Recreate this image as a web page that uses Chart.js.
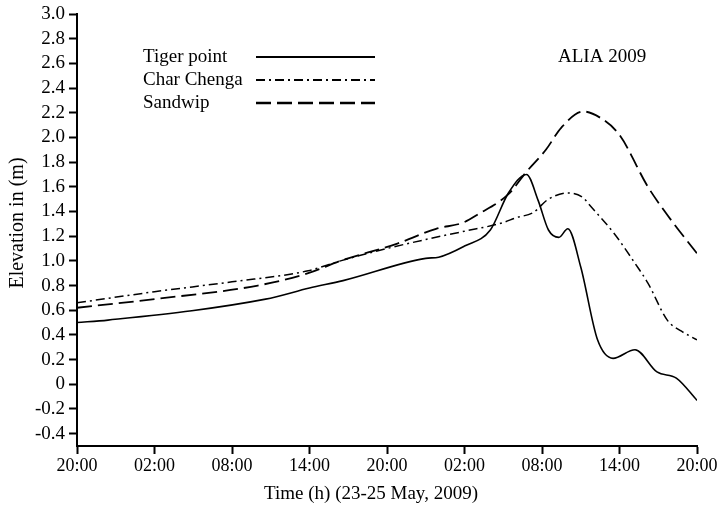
<!DOCTYPE html>
<html>
<head>
<meta charset="utf-8">
<script src="https://cdn.jsdelivr.net/npm/chart.js@4/dist/chart.umd.min.js"></script>
<style>
  html, body { margin: 0; padding: 0; background: #fff; }
  #wrap { width: 718px; height: 510px; position: relative; }
</style>
</head>
<body>
<div id="wrap"><canvas id="cv" width="718" height="510"></canvas></div>
<script>
// Time axis: hours since 20:00, 23 May
const xTickHours = [0, 6, 12, 18, 24, 30, 36, 42, 48];
const xTickLabels = ["20:00", "02:00", "08:00", "14:00", "20:00", "02:00", "08:00", "14:00", "20:00"];
const yTicks = [-0.4, -0.2, 0, 0.2, 0.4, 0.6, 0.8, 1.0, 1.2, 1.4, 1.6, 1.8, 2.0, 2.2, 2.4, 2.6, 2.8, 3.0];

const tigerHours = [0, 2.4, 14.6, 18, 20.6, 27, 28, 30, 32, 33.4, 34.8, 35.7, 36.5, 37.3, 38, 39, 40.3, 41.5, 43.2, 44.9, 46.4, 48];
const tigerVals  = [0.50, 0.52, 0.69, 0.78, 0.84, 1.02, 1.03, 1.12, 1.25, 1.55, 1.70, 1.49, 1.25, 1.19, 1.26, 0.95, 0.36, 0.21, 0.28, 0.10, 0.05, -0.13];

const charHours = [0, 6, 12, 17.9, 20.4, 24, 27.3, 30, 33, 34, 35.3, 36.5, 38, 39.2, 39.7, 41.6, 43.2, 44.2, 45.7, 46.8, 48];
const charVals  = [0.66, 0.75, 0.83, 0.92, 1.00, 1.10, 1.18, 1.24, 1.31, 1.35, 1.39, 1.50, 1.55, 1.51, 1.45, 1.22, 0.98, 0.82, 0.52, 0.43, 0.36];

const sandHours = [0, 6, 14, 17.9, 20.4, 24.8, 27.8, 29.9, 31.1, 33.4, 34.7, 36.3, 37.5, 39.2, 40.5, 42, 44.2, 46, 48];
const sandVals  = [0.62, 0.69, 0.80, 0.90, 1.00, 1.14, 1.26, 1.31, 1.38, 1.54, 1.71, 1.90, 2.08, 2.21, 2.16, 2.02, 1.60, 1.33, 1.06];

const xTitle = "Time (h) (23-25 May, 2009)";
const yTitle = "Elevation in (m)";
const plotTag = "ALIA 2009";

const pts = (xs, ys) => xs.map((x, i) => ({ x, y: ys[i] }));
const FONT = "'Liberation Serif', 'Times New Roman', serif";

// legend (text left, sample right) + axis titles, as in the original figure
const figureText = {
  id: "figureText",
  afterDraw(chart) {
    const ctx = chart.ctx;
    const rows = [57, 80, 103];
    ctx.save();
    ctx.font = "19px " + FONT;
    ctx.fillStyle = "#000";
    ctx.textBaseline = "middle";
    chart.data.datasets.forEach((ds, i) => {
      ctx.textAlign = "left";
      ctx.fillText(ds.label, 143, rows[i]);
      ctx.beginPath();
      ctx.setLineDash(ds.borderDash || []);
      ctx.lineWidth = ds.borderWidth + (i === 2 ? 0.6 : 0.3);
      ctx.strokeStyle = "#000";
      ctx.moveTo(256, rows[i]);
      ctx.lineTo(375, rows[i]);
      ctx.stroke();
    });
    ctx.setLineDash([]);
    ctx.fillText(plotTag, 558, 57);

    ctx.textAlign = "center";
    ctx.fillText(xTitle, 371, 494);

    ctx.translate(18, 223);
    ctx.rotate(-Math.PI / 2);
    ctx.font = "20px " + FONT;
    ctx.fillText(yTitle, 0, 0);
    ctx.restore();
  }
};

new Chart(document.getElementById("cv"), {
  type: "line",
  data: {
    datasets: [
      { label: "Tiger point", data: pts(tigerHours, tigerVals), borderColor: "#000", borderWidth: 1.6, borderDash: [] },
      { label: "Char Chenga", data: pts(charHours, charVals), borderColor: "#000", borderWidth: 1.5, borderDash: [9, 4, 2, 4] },
      { label: "Sandwip", data: pts(sandHours, sandVals), borderColor: "#000", borderWidth: 1.8, borderDash: [15, 6] }
    ]
  },
  options: {
    responsive: false,
    animation: false,
    elements: {
      point: { radius: 0 },
      line: { cubicInterpolationMode: "monotone", fill: false }
    },
    layout: { padding: { top: 14, right: 21, left: 0, bottom: 0 } },
    plugins: { legend: { display: false }, tooltip: { enabled: false } },
    scales: {
      x: {
        type: "linear",
        min: 0,
        max: 48,
        afterBuildTicks: (s) => { s.ticks = xTickHours.map(v => ({ value: v })); },
        afterFit: (s) => { s.height = 64; s.paddingLeft = 0; s.paddingRight = 0; },
        ticks: {
          color: "#000",
          font: { family: FONT, size: 18 },
          padding: 1,
          maxRotation: 0,
          autoSkip: false,
          callback: (v) => xTickLabels[xTickHours.indexOf(v)]
        },
        grid: { drawOnChartArea: false, tickLength: 8, tickColor: "#000", tickWidth: 2 },
        border: { color: "#000", width: 2 }
      },
      y: {
        type: "linear",
        min: -0.5,
        max: 3.0,
        afterBuildTicks: (s) => { s.ticks = yTicks.map(v => ({ value: v })); },
        afterFit: (s) => { s.width = 77; s.paddingTop = 0; s.paddingBottom = 0; },
        ticks: {
          color: "#000",
          font: { family: FONT, size: 19 },
          padding: 4,
          autoSkip: false,
          callback: (v) => (v === 0 ? "0" : v.toFixed(1))
        },
        grid: { drawOnChartArea: false, tickLength: 8, tickColor: "#000", tickWidth: 2 },
        border: { color: "#000", width: 2 }
      }
    }
  },
  plugins: [figureText]
});
</script>
</body>
</html>
